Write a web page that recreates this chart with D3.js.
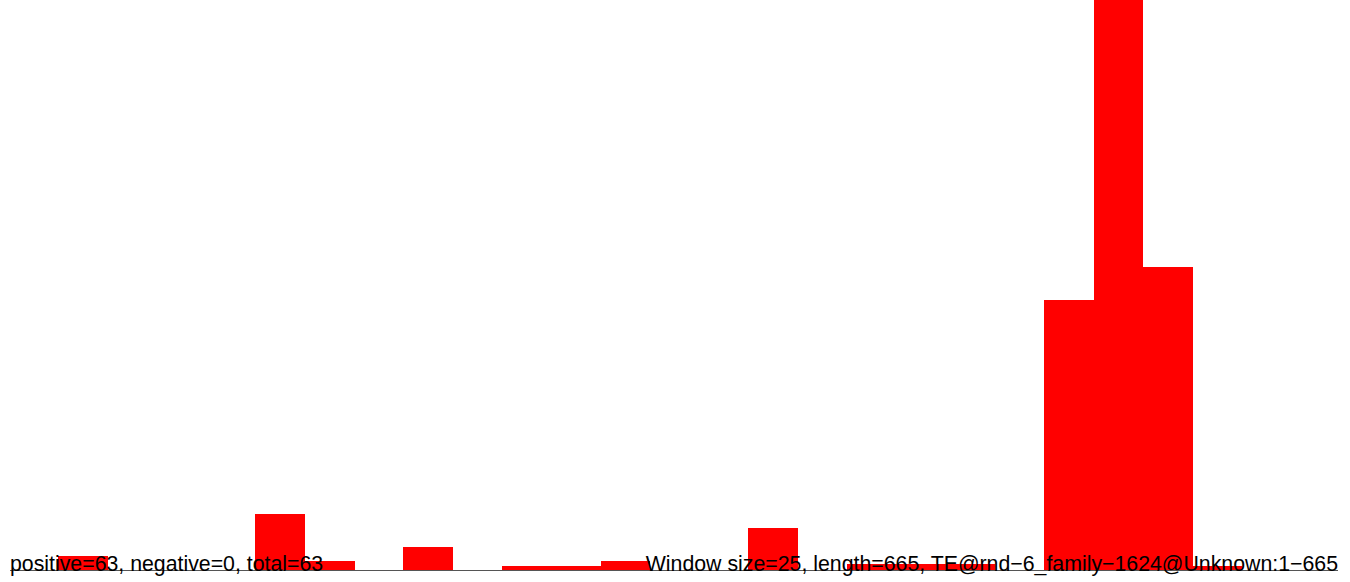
<!DOCTYPE html>
<html>
<head>
<meta charset="utf-8">
<script src="https://cdn.jsdelivr.net/npm/d3@7"></script>
<style>
  body { margin: 0; background: #fff; }
  svg { display: block; }
</style>
</head>
<body>
<div id="chart"></div>
<script>
// window index (25bp windows over 665 positions)
const windows = d3.range(27);
// hit density per window
const values = [0, 14, 0, 0, 0, 56, 9, 0, 23, 0, 4, 4, 9, 0, 0, 42, 0, 6, 6, 6, 0, 270, 570, 303, 4, 0, 0];
const leftLabel = "positive=63, negative=0, total=63";
const rightLabel = "Window size=25, length=665, TE@rnd\u22126_family\u22121624@Unknown:1\u2212665";

const width = 1350, height = 582;
const margin = { left: 9, right: 10, bottom: 12 };

const svg = d3.select("#chart").append("svg")
    .attr("width", width)
    .attr("height", height);

const x = d3.scaleBand()
    .domain(windows)
    .range([margin.left, width - margin.right])
    .padding(0);

const y = d3.scaleLinear()
    .domain([0, d3.max(values)])
    .range([height - margin.bottom, 0]);

// bars
svg.selectAll("rect.bar")
    .data(windows)
    .enter().append("rect")
    .attr("class", "bar")
    .attr("x", d => x(d))
    .attr("width", x.bandwidth() + 0.5)
    .attr("y", d => y(values[d]))
    .attr("height", d => y(0) - y(values[d]))
    .attr("fill", "#ff0000")
    .attr("shape-rendering", "crispEdges");

// baseline
svg.append("line")
    .attr("x1", 10)
    .attr("x2", width - 12)
    .attr("y1", y(0) + 0.5)
    .attr("y2", y(0) + 0.5)
    .attr("stroke", "#555")
    .attr("stroke-width", 1);

// labels
svg.append("text")
    .attr("x", 10)
    .attr("y", y(0) + 1)
    .attr("font-family", "Liberation Sans, Arial, sans-serif")
    .attr("font-size", 21.3)
    .attr("fill", "#000")
    .text(leftLabel);

svg.append("text")
    .attr("x", width - 12)
    .attr("y", y(0) + 1)
    .attr("text-anchor", "end")
    .attr("font-family", "Liberation Sans, Arial, sans-serif")
    .attr("font-size", 21.3)
    .attr("fill", "#000")
    .text(rightLabel);
</script>
</body>
</html>
